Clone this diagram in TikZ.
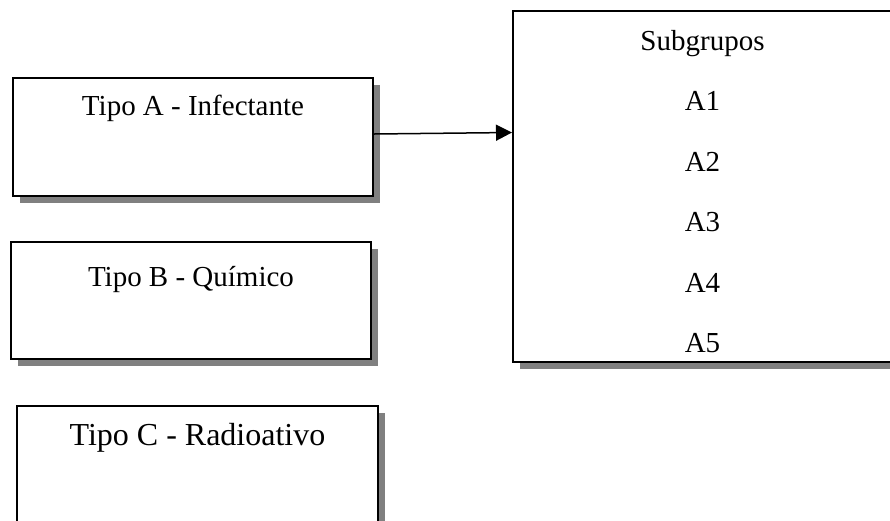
\documentclass[tikz,border=0pt]{standalone}
\usepackage{fontspec}
\setmainfont{Liberation Serif}
\usetikzlibrary{arrows.meta,shadows}

\tikzset{
	caixa/.style={draw, fill=white, line width=2pt, inner sep=0pt,
		drop shadow={shadow xshift=7pt, shadow yshift=-7pt, fill=black!50, opacity=1}},
	rotulo/.style={anchor=base, font=\fontsize{29}{35}\selectfont},
	seta/.style={-{Triangle[length=16pt,width=16pt]}, line width=1.5pt}
}

\begin{document}
\begin{tikzpicture}[x=1pt, y=-1pt]
				\clip (0,0) rectangle (890,520);
				% caixas da esquerda
				\node[caixa, minimum width=360pt, minimum height=118pt] (tipoA) at (193,137) {};
				\node[caixa, minimum width=360pt, minimum height=117pt] (tipoB) at (191,300.5) {};
				\node[caixa, minimum width=361pt, minimum height=124pt] (tipoC) at (197.5,468) {};
				\node[rotulo] (txtA) at ([yshift=-38pt]tipoA.north) {Tipo A - Infectante};
				\node[rotulo] (txtB) at ([yshift=-45pt]tipoB.north) {Tipo B - Químico};
				\node[rotulo, font=\fontsize{32}{38}\selectfont] (txtC) at ([yshift=-40pt]tipoC.north) {Tipo C - Radioativo};
				% subgrupos
				\node[caixa, minimum width=392pt, minimum height=351pt] (subgrupos) at (709,186.5) {};
				\node[rotulo] (txtsub) at (702.5,50) {Subgrupos};
				\foreach \i in {1,...,5}
					\node[rotulo] (a\i) at (702.5,50+60.5*\i) {A\i};
				\draw[seta] ([yshift=3pt]tipoA.east) -- ([yshift=54pt]subgrupos.west);
\end{tikzpicture}
\end{document}
